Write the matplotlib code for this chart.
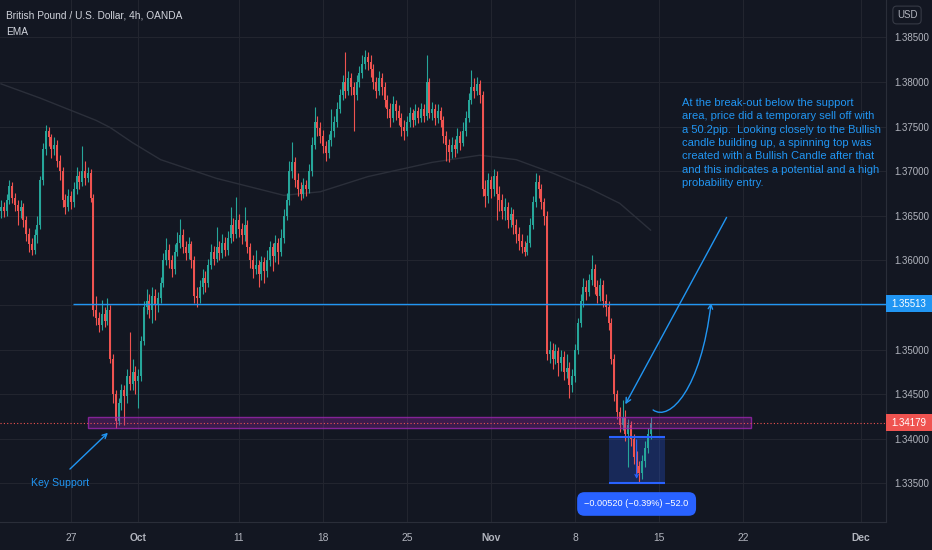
import matplotlib
matplotlib.use('Agg')
import matplotlib.pyplot as plt
from matplotlib.patches import Rectangle, FancyArrowPatch
from matplotlib.path import Path
from matplotlib.transforms import blended_transform_factory

plt.rcParams['font.family'] = ['Liberation Sans', 'DejaVu Sans']

# GBPUSD 4h candles (bar index 0 = left edge)
first_open = 1.3655
closes = [
    1.3660, 1.3655, 1.3668, 1.3684, 1.3670, 1.3662, 1.3655, 1.3660, 1.3645, 1.3630,
    1.3618, 1.3612, 1.3628, 1.3640, 1.3690, 1.3725, 1.3745, 1.3738, 1.3725, 1.3730,
    1.3712, 1.3700, 1.3668, 1.3660, 1.3672, 1.3665, 1.3680, 1.3695, 1.3688, 1.3700,
    1.3692, 1.3698, 1.3670, 1.3545, 1.3535, 1.3528, 1.3540, 1.3532, 1.3545, 1.3490,
    1.3450, 1.3420, 1.3440, 1.3455, 1.3448, 1.3470, 1.3462, 1.3475, 1.3465, 1.3470,
    1.3510, 1.3548, 1.3555, 1.3545, 1.3560, 1.3550, 1.3558, 1.3575, 1.3600, 1.3612,
    1.3600, 1.3590, 1.3610, 1.3620, 1.3628, 1.3615, 1.3608, 1.3618, 1.3600, 1.3560,
    1.3558, 1.3570, 1.3580, 1.3575, 1.3595, 1.3610, 1.3602, 1.3615, 1.3608, 1.3620,
    1.3612, 1.3625, 1.3640, 1.3630, 1.3645, 1.3635, 1.3628, 1.3640, 1.3615, 1.3600,
    1.3590, 1.3595, 1.3585, 1.3598, 1.3588, 1.3600, 1.3615, 1.3605, 1.3620, 1.3610,
    1.3625, 1.3650, 1.3668, 1.3700, 1.3710, 1.3690, 1.3680, 1.3675, 1.3685, 1.3680,
    1.3700, 1.3730, 1.3755, 1.3748, 1.3740, 1.3728, 1.3720, 1.3735, 1.3745, 1.3755,
    1.3770, 1.3785, 1.3800, 1.3790, 1.3805, 1.3795, 1.3785, 1.3800, 1.3810, 1.3820,
    1.3828, 1.3822, 1.3815, 1.3800, 1.3790, 1.3805, 1.3795, 1.3780, 1.3770, 1.3760,
    1.3775, 1.3768, 1.3760, 1.3750, 1.3745, 1.3755, 1.3765, 1.3758, 1.3768, 1.3760,
    1.3770, 1.3762, 1.3800, 1.3765, 1.3770, 1.3760, 1.3768, 1.3758, 1.3740, 1.3730,
    1.3722, 1.3730, 1.3725, 1.3740, 1.3732, 1.3745, 1.3760, 1.3780, 1.3795, 1.3790,
    1.3798, 1.3785, 1.3680, 1.3672, 1.3690, 1.3680, 1.3695, 1.3675, 1.3668, 1.3655,
    1.3660, 1.3645, 1.3652, 1.3640, 1.3630, 1.3622, 1.3615, 1.3610, 1.3620, 1.3640,
    1.3665, 1.3688, 1.3680, 1.3665, 1.3650, 1.3495, 1.3500, 1.3490, 1.3498, 1.3485,
    1.3492, 1.3475, 1.3480, 1.3460, 1.3470, 1.3500, 1.3530, 1.3555, 1.3570, 1.3565,
    1.3578, 1.3590, 1.3570, 1.3560, 1.3572, 1.3555, 1.3548, 1.3530, 1.3490, 1.3450,
    1.3430, 1.3415, 1.3425, 1.3405, 1.3415, 1.3400, 1.3380, 1.3370, 1.3362, 1.3375,
    1.3390, 1.3405, 1.34179,
]
highs = [
    1.3668, 1.3666, 1.3675, 1.3690, 1.3688, 1.3676, 1.3668, 1.3668, 1.3664, 1.3650,
    1.3636, 1.3625, 1.3635, 1.3650, 1.3695, 1.3732, 1.3752, 1.3750, 1.3742, 1.3738,
    1.3735, 1.3718, 1.3705, 1.3675, 1.3680, 1.3678, 1.3688, 1.3705, 1.3700, 1.3728,
    1.3712, 1.3705, 1.3702, 1.3674, 1.3560, 1.3542, 1.3556, 1.3548, 1.3558, 1.3550,
    1.3495, 1.3455, 1.3446, 1.3462, 1.3460, 1.3478, 1.3520, 1.3490, 1.3482, 1.3478,
    1.3515, 1.3555, 1.3568, 1.3562, 1.3570, 1.3568, 1.3565, 1.3582, 1.3608, 1.3625,
    1.3618, 1.3606, 1.3618, 1.3632, 1.3647, 1.3635, 1.3622, 1.3626, 1.3622, 1.3605,
    1.3570, 1.3578, 1.3590, 1.3588, 1.3602, 1.3618, 1.3616, 1.3637, 1.3622, 1.3630,
    1.3626, 1.3633, 1.3660, 1.3648, 1.3671, 1.3652, 1.3642, 1.3660, 1.3645, 1.3620,
    1.3606, 1.3612, 1.3600, 1.3605, 1.3604, 1.3612, 1.3622, 1.3620, 1.3628, 1.3625,
    1.3635, 1.3658, 1.3676, 1.3712, 1.3733, 1.3716, 1.3698, 1.3688, 1.3692, 1.3690,
    1.3708, 1.3738, 1.3772, 1.3762, 1.3755, 1.3746, 1.3734, 1.3742, 1.3770, 1.3762,
    1.3778, 1.3792, 1.3808, 1.3834, 1.3812, 1.3810, 1.3800, 1.3808, 1.3818, 1.3830,
    1.3836, 1.3834, 1.3830, 1.3820, 1.3806, 1.3812, 1.3810, 1.3800, 1.3786, 1.3776,
    1.3784, 1.3780, 1.3774, 1.3765, 1.3758, 1.3762, 1.3772, 1.3770, 1.3775, 1.3772,
    1.3776, 1.3775, 1.3830, 1.3805, 1.3778, 1.3775, 1.3775, 1.3772, 1.3762, 1.3745,
    1.3736, 1.3738, 1.3736, 1.3748, 1.3745, 1.3755, 1.3768, 1.3788, 1.3814, 1.3805,
    1.3806, 1.3802, 1.3790, 1.3690, 1.3698, 1.3695, 1.3702, 1.3700, 1.3684, 1.3674,
    1.3670, 1.3666, 1.3660, 1.3658, 1.3646, 1.3638, 1.3630, 1.3622, 1.3628, 1.3648,
    1.3672, 1.3698, 1.3696, 1.3686, 1.3670, 1.3655, 1.3510, 1.3508, 1.3506, 1.3503,
    1.3500, 1.3498, 1.3495, 1.3486, 1.3478, 1.3506, 1.3536, 1.3562, 1.3580, 1.3578,
    1.3585, 1.3606, 1.3596, 1.3578, 1.3580, 1.3578, 1.3562, 1.3554, 1.3535, 1.3495,
    1.3455, 1.3436, 1.3444, 1.3432, 1.3422, 1.3420, 1.3405, 1.3386, 1.3375, 1.3382,
    1.3398, 1.3412, 1.3424,
]
lows = [
    1.3648, 1.3649, 1.3650, 1.3663, 1.3664, 1.3655, 1.3640, 1.3648, 1.3638, 1.3622,
    1.3610, 1.3606, 1.3607, 1.3620, 1.3635, 1.3685, 1.3718, 1.3728, 1.3715, 1.3718,
    1.3705, 1.3690, 1.3660, 1.3652, 1.3655, 1.3658, 1.3660, 1.3675, 1.3680, 1.3684,
    1.3685, 1.3688, 1.3665, 1.3538, 1.3528, 1.3520, 1.3522, 1.3525, 1.3528, 1.3485,
    1.3440, 1.3412, 1.3415, 1.3432, 1.3415, 1.3440, 1.3455, 1.3455, 1.3450, 1.3435,
    1.3465, 1.3505, 1.3540, 1.3535, 1.3530, 1.3533, 1.3542, 1.3552, 1.3570, 1.3595,
    1.3592, 1.3582, 1.3585, 1.3605, 1.3614, 1.3608, 1.3600, 1.3602, 1.3592, 1.3552,
    1.3548, 1.3552, 1.3562, 1.3565, 1.3570, 1.3590, 1.3595, 1.3598, 1.3600, 1.3603,
    1.3605, 1.3606, 1.3620, 1.3622, 1.3625, 1.3626, 1.3618, 1.3622, 1.3608, 1.3592,
    1.3580, 1.3585, 1.3570, 1.3578, 1.3575, 1.3582, 1.3594, 1.3588, 1.3598, 1.3596,
    1.3605, 1.3620, 1.3645, 1.3662, 1.3692, 1.3682, 1.3672, 1.3668, 1.3670, 1.3672,
    1.3676, 1.3695, 1.3725, 1.3740, 1.3732, 1.3720, 1.3712, 1.3715, 1.3728, 1.3738,
    1.3750, 1.3765, 1.3780, 1.3782, 1.3785, 1.3786, 1.3745, 1.3780, 1.3795, 1.3805,
    1.3815, 1.3814, 1.3806, 1.3792, 1.3782, 1.3785, 1.3786, 1.3772, 1.3760, 1.3750,
    1.3755, 1.3758, 1.3752, 1.3740, 1.3735, 1.3740, 1.3750, 1.3750, 1.3752, 1.3754,
    1.3755, 1.3755, 1.3758, 1.3760, 1.3758, 1.3752, 1.3754, 1.3750, 1.3732, 1.3712,
    1.3710, 1.3715, 1.3716, 1.3720, 1.3724, 1.3728, 1.3740, 1.3755, 1.3775, 1.3782,
    1.3785, 1.3776, 1.3672, 1.3660, 1.3664, 1.3670, 1.3672, 1.3645, 1.3655, 1.3646,
    1.3645, 1.3636, 1.3638, 1.3630, 1.3620, 1.3612, 1.3608, 1.3605, 1.3606, 1.3615,
    1.3635, 1.3660, 1.3670, 1.3658, 1.3640, 1.3488, 1.3485, 1.3478, 1.3484, 1.3470,
    1.3476, 1.3466, 1.3468, 1.3446, 1.3452, 1.3464, 1.3495, 1.3525, 1.3548, 1.3556,
    1.3560, 1.3572, 1.3562, 1.3552, 1.3555, 1.3548, 1.3538, 1.3522, 1.3484, 1.3442,
    1.3422, 1.3408, 1.3410, 1.3398, 1.3368, 1.3392, 1.3372, 1.3362, 1.3352, 1.3355,
    1.3368, 1.3384, 1.3400,
]
opens = [first_open] + closes[:-1]

# EMA line, sampled along its course
ema_bars = [0, 14, 34, 39, 47, 57, 77, 101, 114, 131, 154, 171, 184, 197, 210, 221, 232]
ema_values = [1.3798, 1.3782, 1.3757, 1.3749, 1.3732, 1.3713, 1.3692, 1.3673, 1.3677,
              1.3694, 1.3710, 1.3718, 1.3713, 1.3698, 1.3681, 1.3664, 1.3634]

date_bars = [25, 49, 85, 115, 145, 175, 205, 235, 265, 307]
date_labels = ['27', 'Oct', '11', '18', '25', 'Nov', '8', '15', '22', 'Dec']
price_ticks = [1.335, 1.340, 1.345, 1.350, 1.355, 1.360, 1.365, 1.370, 1.375, 1.380, 1.385]

resistance = 1.35513
last_price = 1.34179
zone_low, zone_high = 1.34122, 1.34245
zone_from, zone_to = 31, 268
measure_top, measure_bottom = 1.3402, 1.3350
measure_from, measure_to = 217, 237
measure_text = '\u22120.00520 (\u22120.39%) \u221252.0'

note = ('At the break-out below the support\n'
        'area, price did a temporary sell off with\n'
        'a 50.2pip.  Looking closely to the Bullish\n'
        'candle building up, a spinning top was\n'
        'created with a Bullish Candle after that\n'
        'and this indicates a potential and a high\n'
        'probability entry.')

BG = '#131722'
GRID = '#22252f'
TXT = '#b2b5be'
UP = '#26a69a'
DOWN = '#ef5350'
BLUE = '#2196f3'
MEASURE = '#2962ff'

fig = plt.figure(figsize=(9.32, 5.5), dpi=100, facecolor=BG)
ax = fig.add_axes([0, 28 / 550, 886 / 932, 522 / 550], facecolor=BG)
ax.set_xlim(-0.36, 316.07)
ax.set_ylim(1.33068, 1.38920)

idx = list(range(len(closes)))
cols = [UP if c >= o else DOWN for o, c in zip(opens, closes)]
ax.vlines(idx, lows, highs, colors=cols, linewidth=0.8, zorder=3)
ax.bar(idx, [max(abs(c - o), 0.00004) for o, c in zip(opens, closes)],
       bottom=[min(o, c) for o, c in zip(opens, closes)],
       width=0.65, color=cols, linewidth=0, zorder=4)

ax.plot(ema_bars, ema_values, color='#2b2f3a', linewidth=1, zorder=2)

# support zone and levels
ax.add_patch(Rectangle((zone_from, zone_low), zone_to - zone_from, zone_high - zone_low,
                       facecolor=(0.61, 0.15, 0.69, 0.3), edgecolor=(0.61, 0.15, 0.69, 0.8),
                       linewidth=1, zorder=5))
ax.axhline(last_price, color=DOWN, linestyle=(0, (1, 2)), linewidth=0.8, zorder=5)
ax.hlines(resistance, 25.7, 316.07, color=BLUE, linewidth=1, zorder=5)

# price range measure
ax.add_patch(Rectangle((measure_from, measure_bottom), measure_to - measure_from,
                       measure_top - measure_bottom, facecolor=(0.16, 0.38, 1.0, 0.25),
                       edgecolor='none', zorder=2))
ax.hlines([measure_top, measure_bottom], measure_from, measure_to, color=MEASURE,
          linewidth=1.5, zorder=6)
mid = (measure_from + measure_to) / 2
ax.add_patch(FancyArrowPatch((mid, measure_top), (mid, measure_bottom + 0.0002),
                             arrowstyle='->', mutation_scale=6, color=MEASURE,
                             linewidth=0.8, zorder=6))
ax.text(mid, 1.33270, measure_text, color='white', fontsize=6.6, ha='center', va='center',
        bbox=dict(boxstyle='round,pad=0.8', fc=MEASURE, ec='none'), zorder=7)

# drawings
ax.add_patch(FancyArrowPatch((259.6, 1.3651), (222.5, 1.3436), arrowstyle='->',
                             mutation_scale=9, color=BLUE, linewidth=1, zorder=6))
curve = Path([(232.9, 1.34324), (238.9, 1.34190), (250.0, 1.34560), (253.6, 1.35523)],
             [Path.MOVETO, Path.CURVE4, Path.CURVE4, Path.CURVE4])
ax.add_patch(FancyArrowPatch(path=curve, arrowstyle='->', mutation_scale=8,
                             color=BLUE, linewidth=1, zorder=6))
ax.add_patch(FancyArrowPatch((23.9, 1.3364), (38.9, 1.3409), arrowstyle='->',
                             mutation_scale=8, color=BLUE, linewidth=1, zorder=6))
ax.text(21.0, 1.33506, 'Key Support', color=BLUE, fontsize=7.6, ha='center', va='center')
ax.text(243.2, 1.37822, note, color=BLUE, fontsize=8.0, ha='left', va='top', linespacing=1.42)

# axes styling
for s in ['top', 'left']:
    ax.spines[s].set_visible(False)
for s in ['right', 'bottom']:
    ax.spines[s].set_color('#2a2e39')
ax.yaxis.tick_right()
ax.set_yticks(price_ticks)
# the 1.35500 label sits under the line's price tag
ax.set_yticklabels(['' if p == 1.355 else f'{p:.5f}' for p in price_ticks])
ax.set_xticks(date_bars)
ax.set_xticklabels(date_labels)
for lab in ax.get_xticklabels():
    if lab.get_text() in ('Oct', 'Nov', 'Dec'):
        lab.set_fontweight('bold')
ax.tick_params(axis='y', length=0, pad=6, labelsize=7.0, labelcolor=TXT)
ax.tick_params(axis='x', length=0, pad=8, labelsize=7.4, labelcolor=TXT)
ax.grid(True, color=GRID, linewidth=0.8)
ax.set_axisbelow(True)

# price labels on the scale
tr = blended_transform_factory(ax.transAxes, ax.transData)
for price, col in [(resistance, BLUE), (last_price, DOWN)]:
    ax.add_patch(Rectangle((1.0, price - 0.00095), 0.06, 0.0019, transform=tr,
                           facecolor=col, edgecolor='none', clip_on=False, zorder=8))
    ax.text(909 / 886, price, f'{price:.5f}', transform=tr, color='white', fontsize=7.0,
            ha='center', va='center', clip_on=False, zorder=9)

fig.text(907 / 932, 1 - 15 / 550, 'USD', color=TXT, fontsize=7.0, ha='center', va='center',
         bbox=dict(boxstyle='round,pad=0.4', fc=BG, ec='#363a45', lw=0.8))
fig.text(6 / 932, 1 - 15 / 550, 'British Pound / U.S. Dollar, 4h, OANDA', color='#d1d4dc',
         fontsize=7.3, ha='left', va='center')
fig.text(6 / 932, 1 - 32 / 550, 'EMA', color='#d1d4dc', fontsize=7.3, ha='left', va='center')

fig.savefig('out.png', dpi=100, facecolor=BG)
